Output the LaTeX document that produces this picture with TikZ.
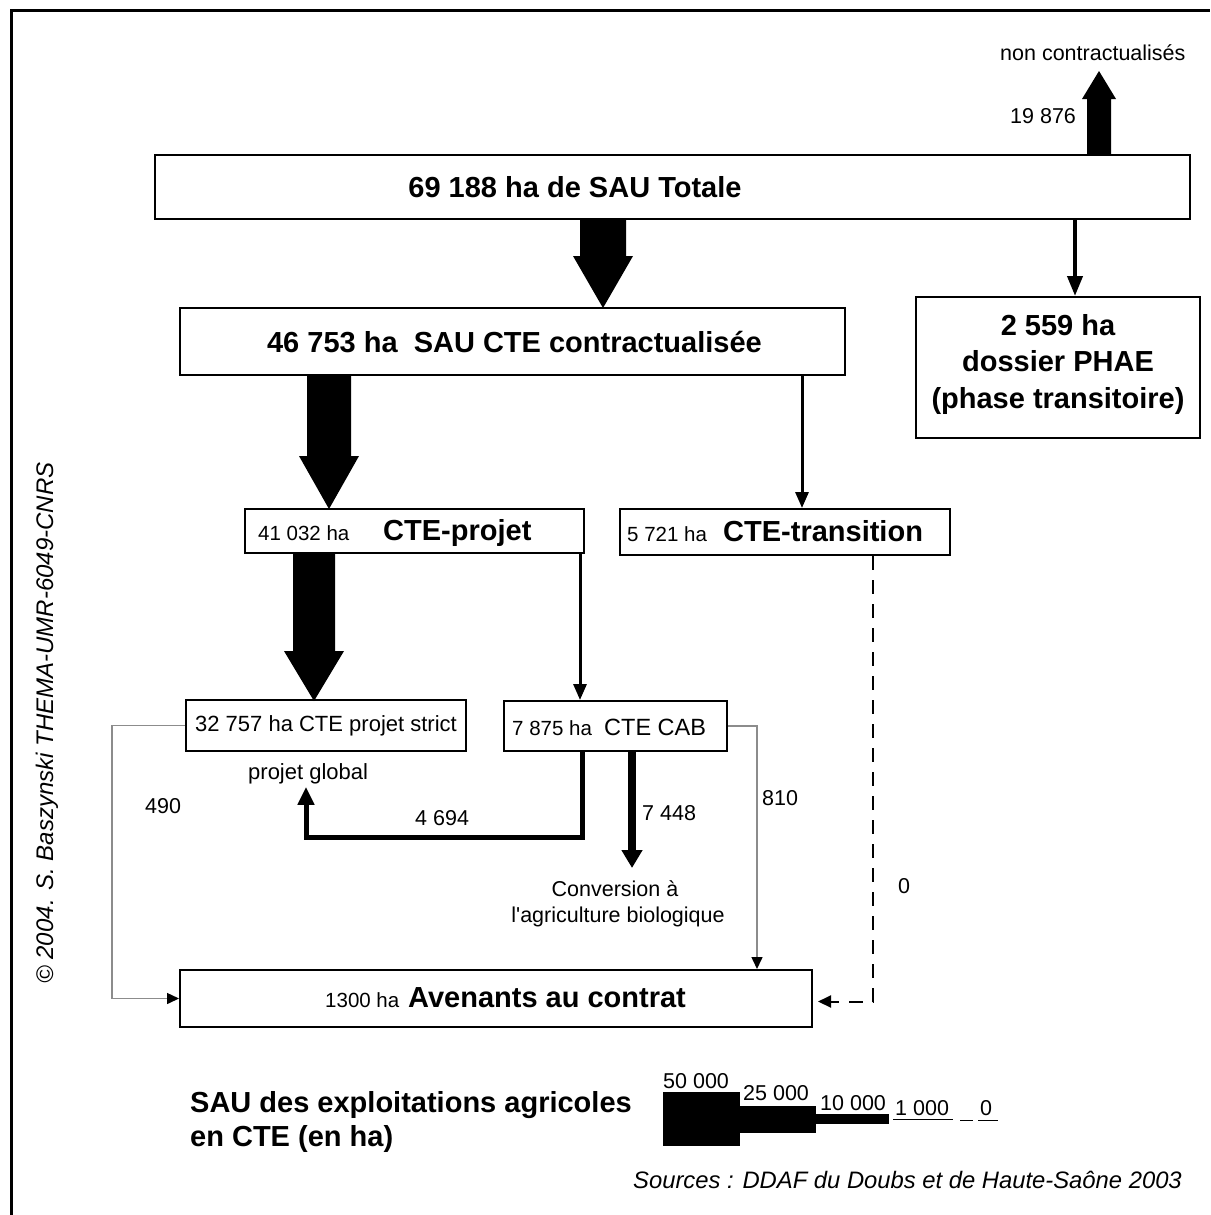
\documentclass[tikz,border=0pt]{standalone}
\usepackage{fontspec}
\setmainfont{Liberation Sans}
\usetikzlibrary{arrows.meta,calc}
\newcommand\FatDown[5]{\fill (#1) ++(-#2,0) -- ++(2*#2,0) -- ++(0,#4) -- ++(#3-#2,0) -- ++(-#3,#5) -- ++(-#3,-#5) -- ++(#3-#2,0) -- cycle;}
\newcommand\FatUp[5]{\fill (#1) ++(-#2,0) -- ++(2*#2,0) -- ++(0,-#4) -- ++(#3-#2,0) -- ++(-#3,-#5) -- ++(-#3,#5) -- ++(#3-#2,0) -- cycle;}
\begin{document}
\begin{tikzpicture}[x=1pt,y=-1pt,
  box/.style={draw, line width=2pt, inner sep=0pt},
  txt/.style={inner sep=0pt, anchor=base west},
  big/.style={font=\fontsize{29}{36.5}\selectfont\bfseries},
  mid/.style={font=\fontsize{22}{26}\selectfont},
  sml/.style={font=\fontsize{20.5}{24}\selectfont},
  lab/.style={font=\fontsize{21.5}{26}\selectfont},
  arrA/.style={line width=4pt, -{Triangle[width=15pt,length=20pt]}},
  arrB/.style={line width=3pt, -{Triangle[width=13pt,length=16pt]}},
  arrC/.style={line width=5pt, -{Triangle[width=16pt,length=18pt]}},
  arrD/.style={line width=8pt, -{Triangle[width=20pt,length=18pt]}},
  greyarr/.style={line width=1.5pt, draw=black!45, -{Triangle[width=11pt,length=12pt,color=black]}},
  dasharr/.style={line width=2pt, dash pattern=on 14pt off 10pt, -{Triangle[width=12pt,length=13pt]}, shorten >=5pt},
]
\useasboundingbox (0,0) rectangle (1210,1215);
\fill[white] (0,0) rectangle (1210,1215);
% frame
\draw[line width=3pt] (11,1216) -- (11,11) -- (1210,11);

% boxes
\node[box, minimum width=1035pt, minimum height=64pt] (tot) at (672.5,187) {};
\node[txt, big, anchor=base] (totT) at (575,197) {69 188 ha de SAU Totale};

\node[box, minimum width=665pt, minimum height=67pt] (tte) at (512.5,341.5) {};
\node[txt, big, anchor=base] (tteT) at (514.5,352) {46 753 ha\ \ SAU CTE contractualisée};

\node[box, minimum width=284pt, minimum height=141pt] (phae) at (1058,367.5) {};
\node[inner sep=0pt, big, align=center] (phaeT) at (1058,364) {2 559 ha\\dossier PHAE\\(phase transitoire)};

\node[box, minimum width=339pt, minimum height=44pt] (proj) at (414.5,531) {};
\node[txt, sml] (projA) at (258,540) {41 032 ha};
\node[txt, big] (projB) at (383,540) {CTE-projet};

\node[box, minimum width=330pt, minimum height=46pt] (trans) at (785,532) {};
\node[txt, sml] (transA) at (627,541) {5 721 ha};
\node[txt, big] (transB) at (723,541) {CTE-transition};

\node[box, mid, minimum width=280pt, minimum height=51pt] (strict) at (326,725.5) {32 757 ha CTE projet strict};

\node[box, minimum width=223pt, minimum height=50pt] (cab) at (615.5,726) {};
\node[txt, sml] (cabA) at (512,735) {7 875 ha};
\node[txt, font=\fontsize{23.5}{28}\selectfont] (cabB) at (604,735) {CTE CAB};

\node[box, minimum width=632pt, minimum height=57pt] (aven) at (496,998.5) {};
\node[txt, sml] (avenA) at (325,1007) {1300 ha};
\node[txt, big] (avenB) at (408,1007) {Avenants au contrat};

% free texts
\node[txt, lab] (nonc) at (1000,60) {non contractualisés};
\node[txt, lab] (l19) at (1010,123.5) {19 876};
\node[txt, mid] (glob) at (248,779) {projet global};
\node[txt, lab] (l490) at (145,813.5) {490};
\node[txt, lab] (l4694) at (415,825) {4 694};
\node[txt, lab] (l7448) at (642,820) {7 448};
\node[txt, lab] (l810) at (762,805) {810};
\node[txt, lab] (l0) at (898,893) {0};
\node[txt, lab, anchor=base] (conv1) at (615,896) {Conversion à};
\node[txt, lab, anchor=base] (conv2) at (618,922) {l\textquotesingle agriculture biologique};

% fat arrows
\coordinate (xup) at (1099,0);
\FatUp{tot.north -| xup}{12}{17}{55}{28}
\coordinate (xa) at (603,0);
\FatDown{tot.south -| xa}{23}{30}{36}{52}
\coordinate (xb) at (329,0);
\FatDown{tte.south -| xb}{22}{30}{80}{53}
\coordinate (xc) at (314,0);
\FatDown{proj.south -| xc}{21}{30}{97}{50}

% thin arrows
\coordinate (xph) at (1075,0);
\draw[arrA] (tot.south -| xph) -- (phae.north -| xph);
\coordinate (xtr) at (802,0);
\draw[arrB] (tte.south -| xtr) -- (trans.north -| xtr);
\coordinate (xcab) at (580,0);
\draw[arrB] (proj.south -| xcab) -- (cab.north -| xcab);

\coordinate (turn) at (582,837);
\coordinate (xgl) at (306,0);
\draw[arrC] (cab.south -| turn) -- (turn) -| ($(glob.south -| xgl)+(0,3)$);

\coordinate (cvtip) at (632,868);
\draw[arrD] (cab.south -| cvtip) -- (cvtip);

\draw[greyarr] (strict.west) -- ++(-73,0) |- (aven.west);
\coordinate (x810) at (757,0);
\draw[greyarr] (cab.east) -| (aven.north -| x810);
\coordinate (x0) at (873,0);
\draw[dasharr] (trans.south -| x0) |- ($(aven.east)+(0,3)$);

% legend
\node[txt, big] (leg1) at (190,1112) {SAU des exploitations agricoles};
\node[txt, big] (leg2) at (190,1146) {en CTE (en ha)};
\fill (663,1092) rectangle (740,1146);
\fill (740,1106) rectangle (816,1133);
\fill (816,1114) rectangle (889,1124);
\draw[line width=1pt] (893,1119) -- (953,1119);
\draw[line width=1pt] (960,1120) -- (973,1120);
\draw[line width=1pt] (978,1120) -- (998,1120);
\node[txt, lab] (s50) at (663,1088) {50 000};
\node[txt, lab] (s25) at (743,1100) {25 000};
\node[txt, lab] (s10) at (820,1110) {10 000};
\node[txt, lab] (s1) at (895,1115) {1 000};
\node[txt, lab] (s0) at (980,1115) {0};

\node[txt, font=\fontsize{23.8}{28}\selectfont\itshape] (src) at (633,1188) {Sources : DDAF du Doubs et de Haute-Saône 2003};
\node[inner sep=0pt, rotate=90, font=\fontsize{24}{28}\selectfont\itshape] (copy) at (47,723) {© 2004. S. Baszynski THEMA-UMR-6049-CNRS};
\end{tikzpicture}
\end{document}
